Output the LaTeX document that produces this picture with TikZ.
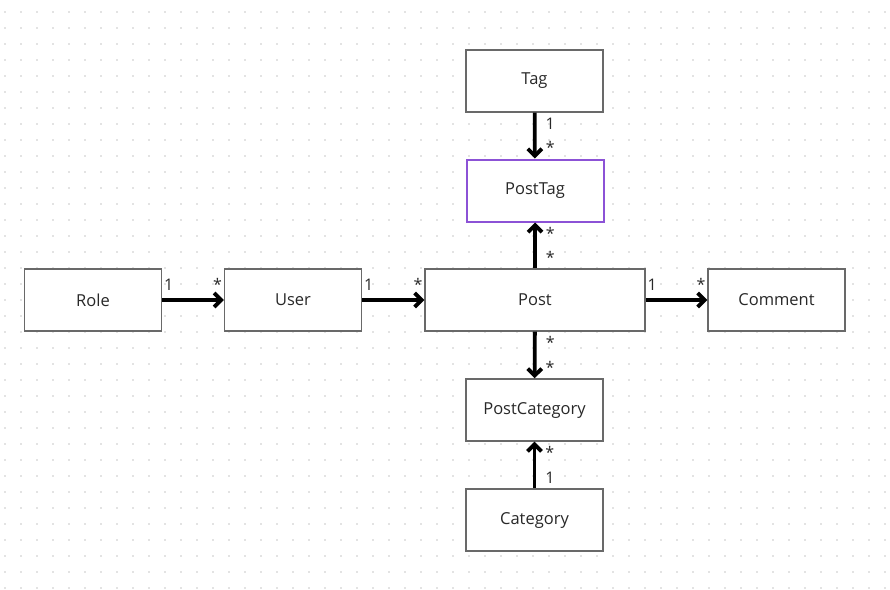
\documentclass[tikz,border=0pt]{standalone}
\usepackage{fontspec}
\setmainfont{Open Sans}
\usetikzlibrary{arrows.meta}
\definecolor{boxgray}{RGB}{105,105,105}
\definecolor{tagpurple}{RGB}{140,82,214}
\definecolor{dotgray}{RGB}{200,200,200}
\definecolor{inkgray}{RGB}{40,40,40}
\begin{document}
\begin{tikzpicture}[x=1pt, y=-1pt,
    entity/.style={draw=boxgray, line width=1.4pt, fill=white, text=inkgray,
        minimum width=137pt, minimum height=62pt, inner sep=0pt,
        font=\fontsize{16.5}{20}\selectfont},
    link/.style={line width=3.8pt, -{Straight Barb[length=7pt,width=14pt]}},
    mult/.style={font=\fontsize{16}{19}\selectfont, text=inkgray, inner sep=3pt},
    multh/.style={mult, yshift=5pt}]
\useasboundingbox (0,0) rectangle (890,589);
\fill[white] (0,0) rectangle (890,589);
% dotted grid
\foreach \i in {0,...,55}
{
    \foreach \j in {0,...,36}
    {
        \fill[dotgray] (5+16*\i, 12+16*\j) circle (0.9pt);
    }
}

\node[entity] (tag) at (534.5,81) {Tag};
\node[entity, draw=tagpurple, line width=2pt] (posttag) at (535,190.5) {PostTag};
\node[entity] (role) at (93,300) {Role};
\node[entity] (user) at (293,300) {User};
\node[entity, minimum width=220pt] (post) at (535,300) {Post};
\node[entity] (comment) at (776.5,300) {Comment};
\node[entity] (postcategory) at (534.5,410) {PostCategory};
\node[entity] (category) at (534.5,520) {Category};

\draw[link] (role) -- (user)
    node[multh, pos=0, above right, xshift=-3pt]{1} node[multh, pos=1, above left, xshift=3pt]{*};
\draw[link] (user) -- (post)
    node[multh, pos=0, above right, xshift=-3pt]{1} node[multh, pos=1, above left, xshift=3pt]{*};
\draw[link] (post) -- (comment)
    node[multh, pos=0, above right, xshift=-3pt]{1} node[multh, pos=1, above left, xshift=3pt]{*};
\draw[link] (tag) -- (posttag)
    node[mult, pos=0, below right, xshift=6pt]{1} node[mult, pos=1, above right, xshift=6pt]{*};
\draw[link] (post) -- (posttag)
    node[mult, pos=0, above right, xshift=6pt]{*} node[mult, pos=1, below right, xshift=6pt]{*};
\draw[link] (post) -- (postcategory)
    node[mult, pos=0, below right, xshift=6pt]{*} node[mult, pos=1, above right, xshift=6pt]{*};
\draw[link] (category) -- (postcategory)
    node[mult, pos=0, above right, xshift=6pt]{1} node[mult, pos=1, below right, xshift=6pt]{*};

\end{tikzpicture}
\end{document}
